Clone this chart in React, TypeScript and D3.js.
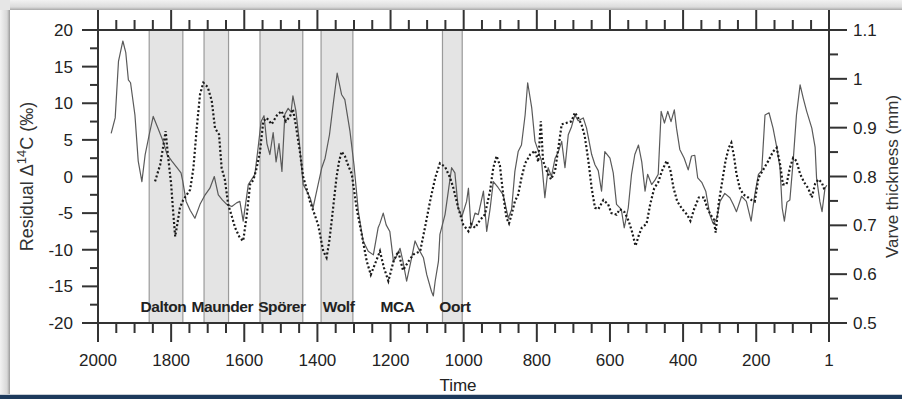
import React from 'react';
import * as d3 from 'd3';

// Residual Δ14C (‰), solid line, left axis
const residualYears = [1964,1953,1944,1932,1924,1917,1911,1899,1890,1880,1871,1860,1849,1836,1822,1811,1798,1784,1773,1768,1759,1748,1735,1721,1707,1694,1682,1671,1660,1648,1634,1621,1612,1603,1589,1571,1562,1554,1546,1538,1530,1521,1513,1505,1497,1489,1480,1472,1467,1459,1450,1439,1431,1420,1412,1402,1388,1379,1367,1357,1346,1334,1325,1311,1300,1288,1275,1261,1247,1234,1229,1220,1212,1202,1192,1183,1174,1166,1156,1144,1133,1122,1110,1101,1088,1083,1078,1069,1065,1051,1042,1033,1024,1015,1005,992,987,980,969,960,946,937,928,919,906,892,878,869,860,851,842,832,825,814,805,796,787,778,769,760,750,741,732,723,714,705,696,687,673,664,650,641,632,623,614,600,591,582,569,561,550,541,532,522,513,504,497,486,477,468,460,451,442,433,424,418,409,397,386,377,368,360,349,338,327,318,308,299,286,272,263,254,240,227,214,204,194,185,176,165,154,144,135,129,123,116,108,99,90,80,71,62,48,39,35,26,20,12,7];
const residualValues = [5.9,8.0,15.7,18.5,16.9,13.2,12.8,8.4,2.1,-0.7,3.0,5.7,8.2,6.6,4.8,3.0,2.1,1.2,0.5,-0.7,-3.4,-4.6,-5.7,-3.8,-2.5,-1.6,0.0,-2.5,-3.2,-3.8,-4.1,-3.6,-3.4,-6.1,-1.1,0.3,4.0,7.5,8.3,4.5,3.0,6.0,2.0,4.5,0.7,8.5,9.3,8.8,11.0,9.0,5.0,-1.1,-1.8,-2.9,-4.3,-2.0,1.2,2.5,5.7,9.8,14.1,11.2,10.5,6.2,1.6,-4.8,-8.8,-10.2,-10.7,-7.0,-6.4,-5.0,-6.6,-7.5,-11.6,-10.8,-9.8,-11.6,-14.3,-11.5,-8.8,-10.0,-11.1,-13.4,-15.7,-16.3,-14.3,-11.6,-7.9,-5.2,-2.0,1.2,0.5,-4.3,-5.5,-3.4,-1.6,-7.0,-5.0,-5.2,-2.0,-7.5,-4.5,-0.7,-1.5,-2.5,-5.7,-4.5,0.7,3.4,4.3,8.4,12.8,9.4,4.8,3.5,2.1,-2.9,1.2,0.0,2.5,3.4,4.8,1.2,5.7,6.8,8.4,7.6,8.0,6.6,3.0,1.6,0.8,-2.0,3.4,2.5,0.5,-3.8,-4.5,-7.0,-4.3,0.3,3.0,4.3,2.0,-2.0,0.3,-1.1,-0.5,0.3,8.9,7.3,8.9,7.5,9.1,6.6,3.7,2.5,0.9,2.8,2.9,-0.2,-0.8,-2.0,-5.2,-6.4,-5.7,-3.4,-2.3,-2.9,-3.8,-4.8,-2.7,-3.4,-6.1,-2.5,0.3,0.8,8.4,8.7,6.6,4.0,1.2,-4.3,-6.1,-3.5,-3.2,2.1,8.4,12.5,10.6,8.9,6.6,4.0,-0.2,-3.4,-4.8,-1.6,-1.2];

// Varve thickness (mm), dotted line, right axis
const varveYears = [1844,1830,1822,1815,1809,1800,1795,1789,1783,1776,1767,1757,1748,1739,1730,1721,1712,1700,1689,1680,1669,1662,1653,1644,1634,1625,1612,1603,1593,1584,1575,1566,1557,1548,1539,1525,1511,1498,1486,1475,1467,1459,1448,1439,1429,1420,1409,1398,1384,1375,1368,1361,1348,1341,1334,1325,1316,1306,1293,1279,1265,1254,1243,1229,1218,1206,1192,1179,1166,1151,1138,1119,1106,1092,1078,1065,1051,1037,1028,1015,1001,987,980,969,956,942,928,919,910,901,892,883,876,868,860,851,842,832,818,805,796,789,783,771,761,750,741,732,718,705,696,687,678,669,659,650,641,632,618,605,596,582,573,560,549,540,530,521,513,500,490,479,468,458,445,435,426,416,402,389,380,370,357,343,334,325,316,311,302,293,284,275,268,261,254,245,235,222,213,204,194,180,167,154,144,135,127,117,108,99,90,80,69,58,48,39,30,21,12];
const varveValues = [0.790,0.824,0.860,0.893,0.845,0.784,0.733,0.677,0.703,0.736,0.752,0.763,0.773,0.818,0.899,0.968,0.992,0.983,0.955,0.899,0.886,0.818,0.793,0.743,0.718,0.695,0.674,0.668,0.722,0.784,0.793,0.818,0.851,0.913,0.920,0.907,0.925,0.934,0.913,0.923,0.938,0.905,0.851,0.800,0.773,0.748,0.725,0.701,0.647,0.634,0.665,0.709,0.797,0.830,0.851,0.842,0.823,0.805,0.736,0.682,0.626,0.599,0.620,0.647,0.613,0.586,0.626,0.647,0.608,0.626,0.640,0.647,0.695,0.749,0.797,0.827,0.820,0.797,0.776,0.736,0.701,0.688,0.703,0.695,0.710,0.722,0.770,0.818,0.842,0.823,0.763,0.715,0.704,0.725,0.749,0.763,0.797,0.827,0.845,0.853,0.830,0.913,0.832,0.808,0.794,0.812,0.859,0.907,0.910,0.913,0.931,0.920,0.907,0.883,0.832,0.776,0.736,0.733,0.752,0.743,0.725,0.722,0.733,0.727,0.709,0.688,0.658,0.680,0.695,0.703,0.743,0.776,0.788,0.811,0.832,0.814,0.776,0.749,0.733,0.722,0.709,0.733,0.757,0.757,0.736,0.722,0.712,0.685,0.749,0.790,0.832,0.859,0.869,0.842,0.805,0.776,0.763,0.757,0.752,0.749,0.797,0.815,0.832,0.851,0.859,0.826,0.784,0.784,0.818,0.838,0.832,0.805,0.788,0.776,0.757,0.785,0.794,0.788,0.770];

// Solar minima bands
const bandNames = ['Dalton', 'Maunder', 'Spörer', 'Wolf', 'Oort'];
const bandStart = [1860, 1710, 1557, 1390, 1058];
const bandEnd = [1768, 1643, 1440, 1303, 1004];

// Period labels
const periodLabels = ['Dalton', 'Maunder', 'Spörer', 'Wolf', 'MCA', 'Oort'];
const periodLabelYears = [1821, 1660, 1497, 1342, 1181, 1024];

// Axis ticks
const xMajorTicks = [2000, 1800, 1600, 1400, 1200, 1000, 800, 600, 400, 200, 1];
const xTickLabels = ['2000', '1800', '1600', '1400', '1200', '1000', '800', '600', '400', '200', '1'];
const leftTicks = [-20, -15, -10, -5, 0, 5, 10, 15, 20];
const rightTicks = [0.5, 0.6, 0.7, 0.8, 0.9, 1.0, 1.1];
const rightTickLabels = ['0.5', '0.6', '0.7', '0.8', '0.9', '1', '1.1'];

const W = 902;
const H = 399;
const L = 98, R = 829, T = 30, B = 323;
const FONT = '"Liberation Sans", Arial, Helvetica, sans-serif';
const AX = '#333';

export default function App() {
  const x = d3.scaleLinear().domain([2000, 1]).range([L, R]);
  const yL = d3.scaleLinear().domain([-20, 20]).range([B, T]);
  const yR = d3.scaleLinear().domain([0.5, 1.1]).range([B, T]);

  const residual = residualYears.map((yr, i) => [yr, residualValues[i]] as [number, number]);
  const varve = varveYears.map((yr, i) => [yr, varveValues[i]] as [number, number]);

  const lineL = d3.line<[number, number]>().x(d => x(d[0])).y(d => yL(d[1]));
  const lineR = d3.line<[number, number]>().x(d => x(d[0])).y(d => yR(d[1]));

  const xMinor = d3.range(1950, 0, -50).filter(v => v % 200 !== 0);
  const leftMinor = d3.range(-17.5, 20, 5);
  const rightMinor = d3.range(0.55, 1.1, 0.1);

  return (
    <svg width={W} height={H} style={{ position: 'absolute', left: 0, top: 0, display: 'block' }}
      xmlns="http://www.w3.org/2000/svg">
      <defs>
        <linearGradient id="lshadow" x1="0" x2="1" y1="0" y2="0">
          <stop offset="0" stopColor="#f2f2f2" />
          <stop offset="0.7" stopColor="#d8d8d8" />
          <stop offset="1" stopColor="#9a9a9a" />
        </linearGradient>
        <linearGradient id="tshadow" x1="0" x2="0" y1="0" y2="1">
          <stop offset="0" stopColor="#f2f2f2" />
          <stop offset="0.7" stopColor="#dcdcdc" />
          <stop offset="1" stopColor="#a8a8a8" />
        </linearGradient>
      </defs>
      <rect x={0} y={0} width={W} height={H} fill="#ffffff" />
      <rect x={0} y={0} width={10} height={H} fill="url(#lshadow)" />
      <rect x={0} y={0} width={W} height={10} fill="url(#tshadow)" />
      <rect x={0} y={0} width={10} height={10} fill="#e6e6e6" />
      <rect x={0} y={395} width={W} height={4} fill="#1d3a5c" />
      <rect x={0} y={394} width={W} height={1} fill="#c8ced6" />

      {/* bands */}
      {bandNames.map((n, i) => (
        <g key={n}>
          <rect x={x(bandStart[i])} y={T} width={x(bandEnd[i]) - x(bandStart[i])} height={B - T} fill="#e4e4e4" />
          <line x1={x(bandStart[i])} x2={x(bandStart[i])} y1={T} y2={B} stroke="#9a9a9a" strokeWidth={1.2} />
          <line x1={x(bandEnd[i])} x2={x(bandEnd[i])} y1={T} y2={B} stroke="#9a9a9a" strokeWidth={1.2} />
        </g>
      ))}

      {/* period labels */}
      {periodLabels.map((n, i) => (
        <text key={n} x={x(periodLabelYears[i])} y={312} textAnchor="middle" fontFamily={FONT}
          fontWeight="bold" fontSize={15.5} fill="#222" letterSpacing={-0.4}>{n}</text>
      ))}

      {/* data lines */}
      <path d={lineL(residual) || ''} fill="none" stroke="#5a5a5a" strokeWidth={1.2} strokeLinejoin="round" />
      <path d={lineR(varve) || ''} fill="none" stroke="#1a1a1a" strokeWidth={2.2} strokeDasharray="2 2.2" />

      {/* axes frame */}
      <line x1={L} x2={R} y1={T} y2={T} stroke={AX} strokeWidth={2} />
      <line x1={L} x2={R} y1={B} y2={B} stroke={AX} strokeWidth={2} />
      <line x1={L} x2={L} y1={10} y2={B} stroke={AX} strokeWidth={2} />
      <line x1={R} x2={R} y1={10} y2={B} stroke={AX} strokeWidth={2} />

      {/* x ticks */}
      {xMajorTicks.map(t => (
        <g key={'xm' + t}>
          <line x1={x(t)} x2={x(t)} y1={B} y2={B + 19} stroke={AX} strokeWidth={2} />
          <line x1={x(t)} x2={x(t)} y1={T} y2={10} stroke={AX} strokeWidth={2} />
        </g>
      ))}
      {xMinor.map(t => (
        <g key={'xn' + t}>
          <line x1={x(t)} x2={x(t)} y1={B} y2={B + 10} stroke={AX} strokeWidth={2} />
          <line x1={x(t)} x2={x(t)} y1={T} y2={T - 10} stroke={AX} strokeWidth={2} />
        </g>
      ))}
      {xMajorTicks.map((t, i) => (
        <text key={'xl' + t} x={x(t)} y={366} textAnchor="middle" fontFamily={FONT} fontSize={17} fill="#222">{xTickLabels[i]}</text>
      ))}
      <text x={458} y={391} textAnchor="middle" fontFamily={FONT} fontSize={17} fill="#222">Time</text>

      {/* left axis */}
      {leftTicks.map(t => (
        <g key={'l' + t}>
          <line x1={L - 16} x2={L} y1={yL(t)} y2={yL(t)} stroke={AX} strokeWidth={2} />
          <text x={73} y={yL(t) + 6} textAnchor="end" fontFamily={FONT} fontSize={17} fill="#222">{t}</text>
        </g>
      ))}
      {leftMinor.map(t => (
        <line key={'lm' + t} x1={L - 8} x2={L} y1={yL(t)} y2={yL(t)} stroke={AX} strokeWidth={2} />
      ))}
      <text transform={`translate(33, ${(T + B) / 2}) rotate(-90)`} textAnchor="middle" fontFamily={FONT} fontSize={18} fill="#333">
        Residual Δ<tspan dy={-7} fontSize={13}>14</tspan><tspan dy={7}>C (‰)</tspan>
      </text>

      {/* right axis */}
      {rightTicks.map((t, i) => (
        <g key={'r' + t}>
          <line x1={R} x2={R + 18} y1={yR(t)} y2={yR(t)} stroke={AX} strokeWidth={2} />
          <text x={853} y={yR(t) + 6} textAnchor="start" fontFamily={FONT} fontSize={17} fill="#222">{rightTickLabels[i]}</text>
        </g>
      ))}
      {rightMinor.map(t => (
        <line key={'rm' + t.toFixed(2)} x1={R} x2={R + 9} y1={yR(t)} y2={yR(t)} stroke={AX} strokeWidth={2} />
      ))}
      <text transform={`translate(898, ${(T + B) / 2}) rotate(-90)`} textAnchor="middle" fontFamily={FONT} fontSize={17} fill="#333">
        Varve thickness (mm)
      </text>
    </svg>
  );
}
